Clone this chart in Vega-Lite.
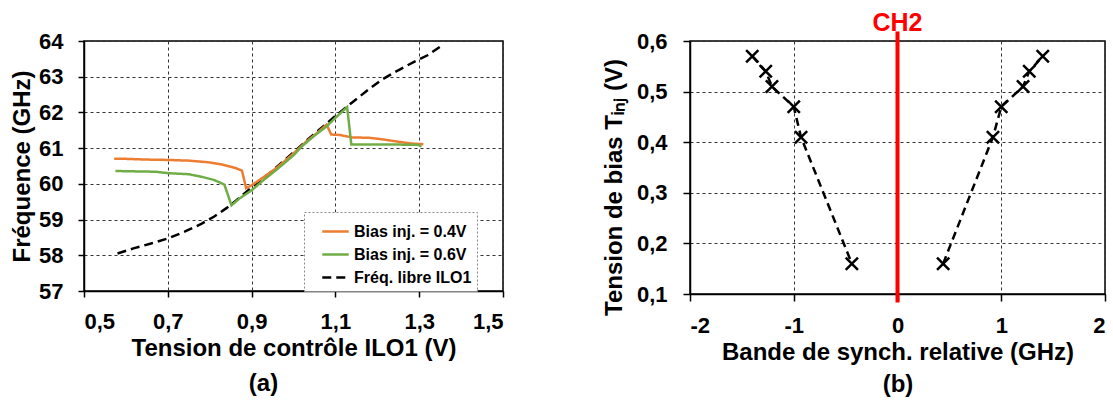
{
  "$schema": "https://vega.github.io/schema/vega-lite/v6.json",
  "padding": {"left": 9, "top": 10, "right": 0, "bottom": 0},
  "bounds": "flush",
  "spacing": 187,
  "config": {
    "font": "Liberation Sans",
    "view": {"stroke": "black", "strokeWidth": 1.5},
    "axis": {
      "labelFont": "Liberation Sans", "labelFontSize": 22, "labelFontWeight": "bold", "labelColor": "black",
      "titleFont": "Liberation Sans", "titleFontSize": 24, "titleFontWeight": "bold", "titleColor": "black",
      "domainColor": "black", "domainWidth": 1.5, "tickColor": "black", "tickSize": 6, "tickWidth": 1.5,
      "gridColor": "#333333", "gridDash": [3, 3], "gridWidth": 1, "labelPadding": 14, "titlePadding": 4
    },
    "title": {"font": "Liberation Sans", "fontWeight": "bold"}
  },
  "datasets": {
    "freq": [
      {"v": 0.58, "f": 58.05, "s": "Fréq. libre ILO1"},
      {"v": 0.62, "f": 58.2, "s": "Fréq. libre ILO1"},
      {"v": 0.66, "f": 58.33, "s": "Fréq. libre ILO1"},
      {"v": 0.70, "f": 58.47, "s": "Fréq. libre ILO1"},
      {"v": 0.74, "f": 58.66, "s": "Fréq. libre ILO1"},
      {"v": 0.78, "f": 58.88, "s": "Fréq. libre ILO1"},
      {"v": 0.81, "f": 59.08, "s": "Fréq. libre ILO1"},
      {"v": 0.84, "f": 59.32, "s": "Fréq. libre ILO1"},
      {"v": 0.87, "f": 59.6, "s": "Fréq. libre ILO1"},
      {"v": 0.90, "f": 59.9, "s": "Fréq. libre ILO1"},
      {"v": 0.93, "f": 60.17, "s": "Fréq. libre ILO1"},
      {"v": 0.96, "f": 60.47, "s": "Fréq. libre ILO1"},
      {"v": 1.00, "f": 60.88, "s": "Fréq. libre ILO1"},
      {"v": 1.03, "f": 61.2, "s": "Fréq. libre ILO1"},
      {"v": 1.06, "f": 61.5, "s": "Fréq. libre ILO1"},
      {"v": 1.10, "f": 61.9, "s": "Fréq. libre ILO1"},
      {"v": 1.14, "f": 62.28, "s": "Fréq. libre ILO1"},
      {"v": 1.18, "f": 62.65, "s": "Fréq. libre ILO1"},
      {"v": 1.21, "f": 62.91, "s": "Fréq. libre ILO1"},
      {"v": 1.25, "f": 63.18, "s": "Fréq. libre ILO1"},
      {"v": 1.29, "f": 63.43, "s": "Fréq. libre ILO1"},
      {"v": 1.32, "f": 63.6, "s": "Fréq. libre ILO1"},
      {"v": 1.35, "f": 63.84, "s": "Fréq. libre ILO1"},
      {"v": 0.572, "f": 60.70, "s": "Bias inj. = 0.4V"},
      {"v": 0.60, "f": 60.70, "s": "Bias inj. = 0.4V"},
      {"v": 0.65, "f": 60.68, "s": "Bias inj. = 0.4V"},
      {"v": 0.70, "f": 60.67, "s": "Bias inj. = 0.4V"},
      {"v": 0.75, "f": 60.65, "s": "Bias inj. = 0.4V"},
      {"v": 0.80, "f": 60.60, "s": "Bias inj. = 0.4V"},
      {"v": 0.83, "f": 60.54, "s": "Bias inj. = 0.4V"},
      {"v": 0.86, "f": 60.45, "s": "Bias inj. = 0.4V"},
      {"v": 0.877, "f": 60.37, "s": "Bias inj. = 0.4V"},
      {"v": 0.887, "f": 59.88, "s": "Bias inj. = 0.4V"},
      {"v": 0.90, "f": 59.96, "s": "Bias inj. = 0.4V"},
      {"v": 0.93, "f": 60.2, "s": "Bias inj. = 0.4V"},
      {"v": 0.96, "f": 60.45, "s": "Bias inj. = 0.4V"},
      {"v": 1.00, "f": 60.85, "s": "Bias inj. = 0.4V"},
      {"v": 1.03, "f": 61.18, "s": "Bias inj. = 0.4V"},
      {"v": 1.06, "f": 61.46, "s": "Bias inj. = 0.4V"},
      {"v": 1.079, "f": 61.66, "s": "Bias inj. = 0.4V"},
      {"v": 1.09, "f": 61.38, "s": "Bias inj. = 0.4V"},
      {"v": 1.11, "f": 61.37, "s": "Bias inj. = 0.4V"},
      {"v": 1.14, "f": 61.3, "s": "Bias inj. = 0.4V"},
      {"v": 1.18, "f": 61.29, "s": "Bias inj. = 0.4V"},
      {"v": 1.21, "f": 61.25, "s": "Bias inj. = 0.4V"},
      {"v": 1.25, "f": 61.18, "s": "Bias inj. = 0.4V"},
      {"v": 1.28, "f": 61.13, "s": "Bias inj. = 0.4V"},
      {"v": 1.31, "f": 61.11, "s": "Bias inj. = 0.4V"},
      {"v": 0.575, "f": 60.36, "s": "Bias inj. = 0.6V"},
      {"v": 0.62, "f": 60.35, "s": "Bias inj. = 0.6V"},
      {"v": 0.67, "f": 60.34, "s": "Bias inj. = 0.6V"},
      {"v": 0.70, "f": 60.30, "s": "Bias inj. = 0.6V"},
      {"v": 0.75, "f": 60.27, "s": "Bias inj. = 0.6V"},
      {"v": 0.78, "f": 60.20, "s": "Bias inj. = 0.6V"},
      {"v": 0.81, "f": 60.11, "s": "Bias inj. = 0.6V"},
      {"v": 0.835, "f": 59.98, "s": "Bias inj. = 0.6V"},
      {"v": 0.852, "f": 59.40, "s": "Bias inj. = 0.6V"},
      {"v": 0.87, "f": 59.58, "s": "Bias inj. = 0.6V"},
      {"v": 0.90, "f": 59.82, "s": "Bias inj. = 0.6V"},
      {"v": 0.93, "f": 60.12, "s": "Bias inj. = 0.6V"},
      {"v": 0.96, "f": 60.40, "s": "Bias inj. = 0.6V"},
      {"v": 1.00, "f": 60.80, "s": "Bias inj. = 0.6V"},
      {"v": 1.02, "f": 61.05, "s": "Bias inj. = 0.6V"},
      {"v": 1.05, "f": 61.35, "s": "Bias inj. = 0.6V"},
      {"v": 1.08, "f": 61.62, "s": "Bias inj. = 0.6V"},
      {"v": 1.10, "f": 61.85, "s": "Bias inj. = 0.6V"},
      {"v": 1.128, "f": 62.15, "s": "Bias inj. = 0.6V"},
      {"v": 1.138, "f": 61.10, "s": "Bias inj. = 0.6V"},
      {"v": 1.20, "f": 61.10, "s": "Bias inj. = 0.6V"},
      {"v": 1.25, "f": 61.10, "s": "Bias inj. = 0.6V"},
      {"v": 1.30, "f": 61.09, "s": "Bias inj. = 0.6V"},
      {"v": 1.305, "f": 61.04, "s": "Bias inj. = 0.6V"}
    ],
    "band": [
      {"bw": -1.40, "t": 0.57, "side": "L"},
      {"bw": -1.27, "t": 0.54, "side": "L"},
      {"bw": -1.21, "t": 0.51, "side": "L"},
      {"bw": -1.00, "t": 0.47, "side": "L"},
      {"bw": -0.93, "t": 0.41, "side": "L"},
      {"bw": -0.44, "t": 0.16, "side": "L"},
      {"bw": 0.44, "t": 0.16, "side": "R"},
      {"bw": 0.92, "t": 0.41, "side": "R"},
      {"bw": 1.00, "t": 0.47, "side": "R"},
      {"bw": 1.21, "t": 0.51, "side": "R"},
      {"bw": 1.27, "t": 0.54, "side": "R"},
      {"bw": 1.40, "t": 0.57, "side": "R"}
    ],
    "ch": [
      {"bw": 0, "lo": 0.083, "hi": 0.619}
    ]
  },
  "hconcat": [
    {
      "width": 419,
      "height": 250,
      "title": {"text": "(a)", "orient": "bottom", "dx": -30, "fontSize": 24, "color": "black", "offset": 12},
      "data": {"name": "freq"},
      "mark": {"type": "line", "strokeJoin": "miter"},
      "encoding": {
        "x": {"field": "v", "type": "quantitative",
              "scale": {"domain": [0.5, 1.5], "nice": false},
              "axis": {"title": "Tension de contrôle ILO1 (V)", "values": [0.5, 0.7, 0.9, 1.1, 1.3, 1.5],
                       "labelExpr": "replace(format(datum.value, '.1f'), '.', ',')"}},
        "y": {"field": "f", "type": "quantitative",
              "scale": {"domain": [57, 64], "nice": false, "zero": false},
              "axis": {"title": "Fréquence (GHz)", "values": [57, 58, 59, 60, 61, 62, 63, 64], "format": "d", "labelPadding": 15}},
        "color": {"field": "s", "type": "nominal",
                  "scale": {"domain": ["Bias inj. = 0.4V", "Bias inj. = 0.6V", "Fréq. libre ILO1"],
                            "range": ["#ED7D31", "#70AD47", "#000000"]},
                  "legend": {"title": null, "orient": "none", "legendX": 220, "legendY": 171,
                             "labelFont": "Liberation Sans", "labelFontSize": 16, "labelFontWeight": "bold", "labelColor": "black",
                             "symbolType": "stroke", "symbolSize": 700, "symbolStrokeWidth": 3, "symbolOffset": 12,
                             "strokeColor": "#888888", "fillColor": "white",
                             "padding": 5, "rowPadding": -2, "labelOffset": 4,
                             "encode": {"legend": {"update": {"strokeDash": {"value": [2, 2]}}}}}},
        "strokeDash": {"field": "s", "type": "nominal",
                       "scale": {"domain": ["Bias inj. = 0.4V", "Bias inj. = 0.6V", "Fréq. libre ILO1"],
                                 "range": [[1, 0], [1, 0], [9, 5]]},
                       "legend": {"title": null}},
        "strokeWidth": {"field": "s", "type": "nominal",
                        "scale": {"domain": ["Bias inj. = 0.4V", "Bias inj. = 0.6V", "Fréq. libre ILO1"],
                                  "range": [2.5, 2.5, 3.2]},
                        "legend": null}
      }
    },
    {
      "width": 415,
      "height": 253,
      "title": {"text": "CH2", "color": "#FF0000", "fontSize": 25, "offset": -7},
      "layer": [
        {
          "data": {"name": "band"},
          "mark": {"type": "line", "color": "black", "strokeWidth": 2.5, "strokeDash": [8, 5]},
          "encoding": {
            "x": {"field": "bw", "type": "quantitative",
                  "scale": {"domain": [-2, 2], "nice": false},
                  "axis": {"title": ["Bande de synch. relative (GHz)", "(b)"], "titleLineHeight": 32,
                           "values": [-2, -1, 0, 1, 2], "tickSize": 7,
                           "labelExpr": "datum.value < 0 ? '-' + abs(datum.value) : '' + datum.value"}},
            "y": {"field": "t", "type": "quantitative",
                  "scale": {"domain": [0.1, 0.6], "nice": false, "zero": false},
                  "axis": {"title": "Tension de bias Tᵢₙⱼ (V)", "values": [0.1, 0.2, 0.3, 0.4, 0.5, 0.6],
                           "labelExpr": "replace(format(datum.value, '.1f'), '.', ',')",
                           "tickSize": 7, "labelPadding": 16, "titlePadding": 10, "titleY": 146}},
            "detail": {"field": "side", "type": "nominal"}
          }
        },
        {
          "data": {"name": "band"},
          "mark": {"type": "point", "shape": "M-1,-1L1,1M-1,1L1,-1", "filled": false,
                   "color": "black", "strokeWidth": 2.5, "size": 150, "opacity": 1},
          "encoding": {
            "x": {"field": "bw", "type": "quantitative"},
            "y": {"field": "t", "type": "quantitative"}
          }
        },
        {
          "data": {"name": "ch"},
          "mark": {"type": "rule", "color": "#FF0000", "strokeWidth": 4, "clip": false},
          "encoding": {
            "x": {"field": "bw", "type": "quantitative"},
            "y": {"field": "lo", "type": "quantitative"},
            "y2": {"field": "hi"}
          }
        }
      ]
    }
  ]
}
